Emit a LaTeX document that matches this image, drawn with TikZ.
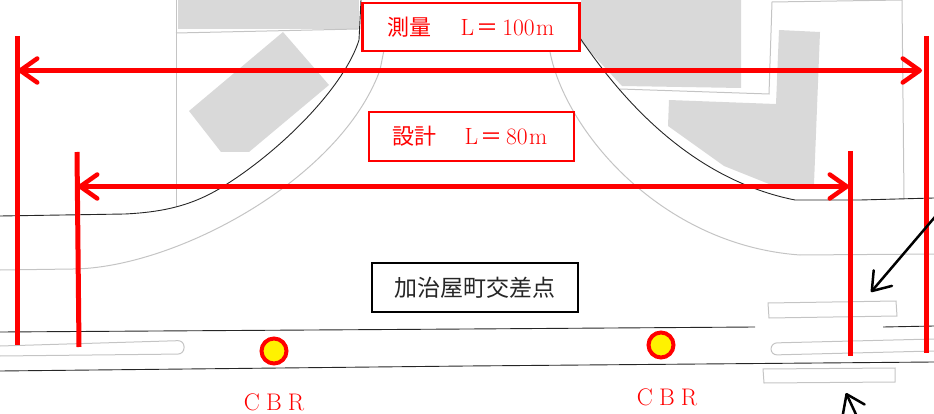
\documentclass[tikz,border=0pt]{standalone}
\usepackage{fontspec}
\newfontfamily\cjk{Noto Sans CJK JP}
\usetikzlibrary{arrows.meta}
\definecolor{bld}{RGB}{217,217,217}
\definecolor{plan}{RGB}{196,196,196}
\definecolor{redd}{RGB}{255,0,0}
\tikzset{
  x=1pt,y=-1pt,
  building/.style={fill=bld,draw=none},
  planline/.style={draw=plan,line width=1pt},
  roadline/.style={draw=black!85,line width=0.9pt},
  redpost/.style={draw=redd,line width=5pt},
  dim/.style={draw=redd,line width=4.5pt,{Straight Barb[length=17pt,width=24pt,line width=4.5pt,round]}-{Straight Barb[length=17pt,width=24pt,line width=4.5pt,round]}},
  blackarrow/.style={draw=black,line width=2.5pt,-{Straight Barb[length=17pt,width=24pt,line width=2.5pt,round]}},
  redbox/.style={draw=redd,line width=2.2pt,fill=white,text=redd,inner sep=0pt,font=\fontsize{23.5}{24}\selectfont,align=center},
  blackbox/.style={draw=black,line width=2.2pt,fill=white,text=black!85,inner sep=0pt,font=\fontsize{23}{24}\selectfont,align=center},
  cbrdot/.style={circle,draw=redd,fill=yellow,line width=4pt,minimum size=25pt,inner sep=0pt},
  cbrtext/.style={text=redd,font=\fontsize{24}{24}\selectfont,inner sep=0pt},
}
\newcommand{\cjktxt}[1]{{\fontsize{22}{24}\selectfont\cjk #1}}
\begin{document}
\begin{tikzpicture}
\useasboundingbox (0,0) rectangle (934,414);
\clip (0,0) rectangle (934,414);
% buildings
\fill[building] (178,0) -- (359,0) -- (359,29) -- (178,29) -- cycle;
\fill[building] (283,32) -- (329,85) -- (249,152) -- (221,152) -- (189,111) -- cycle;
\fill[building] (581,0) -- (741,0) -- (741,88) -- (622,86) -- (581,42) -- cycle;
\fill[building] (779,30) -- (820,32) -- (814,184) -- (769,184) -- (724,166) -- (668,126) -- (669,100) -- (776,104) -- cycle;
% plan outlines
\draw[planline] (176,0) -- (176,207);
\draw[planline] (176,33) -- (358,29);
\draw[planline] (620,89) -- (769,94) -- (772,2) -- (902,0) -- (904,199);
\draw[planline] (0,270) -- (73,269) .. controls (175,268) and (340,180) .. (380,70) -- (385,45);
\draw[planline] (550,52) .. controls (565,130) and (660,245) .. (800,255) -- (934,254);
\draw[planline,rounded corners=6pt] (0,346) -- (184,340.5) -- (184,354) -- (0,356);
\draw[planline,rounded corners=6pt] (934,339) -- (771,343) -- (771,355) -- (934,351);
\draw[planline] (768,303) -- (896,301) -- (897,316) -- (769,318) -- cycle;
\draw[planline] (763,369) -- (895,368) -- (895,382) -- (764,383) -- cycle;
% road edges
\draw[roadline] (0,216) -- (125,214) .. controls (165,212) and (195,205) .. (227,184) .. controls (285,147) and (345,85) .. (359,40) -- (361,0);
\draw[roadline] (578,35) .. controls (625,105) and (695,180) .. (795,200) -- (860,200) -- (934,198);
\draw[roadline] (0,332) -- (467,329) -- (755,327);
\draw[roadline] (883,327) -- (934,326);
\draw[roadline] (0,371) -- (467,366) -- (934,362);
% posts
\coordinate (a1) at (17.5,36);  \coordinate (a2) at (17.5,345);
\coordinate (b1) at (77,152);   \coordinate (b2) at (79,347);
\coordinate (c1) at (850,151);  \coordinate (c2) at (850,356);
\coordinate (d1) at (926,36);   \coordinate (d2) at (926,353);
\draw[redpost] (a1) -- (a2);
\draw[redpost] (b1) -- (b2);
\draw[redpost] (c1) -- (c2);
\draw[redpost] (d1) -- (d2);
% dimension arrows
\coordinate (la) at (18,70.5);  \coordinate (ra) at (922,70.5);
\coordinate (lb) at (78,186.5); \coordinate (rb) at (849,186.5);
\draw[dim] (la) -- (ra);
\draw[dim] (lb) -- (rb);
% black arrows
\coordinate (n1) at (940,211); \coordinate (n2) at (871,292);
\coordinate (s1) at (860,423); \coordinate (s2) at (846,393);
\draw[blackarrow] (n1) -- (n2);
\draw[blackarrow] (s1) -- (s2);
% labels
\node[redbox,minimum width=217pt,minimum height=48pt] (survey) at (471,27) {\cjktxt{測量}\hspace{29pt}L\hspace{2pt}\cjktxt{＝}\hspace{4pt}100\hspace{1.5pt}m};
\node[redbox,minimum width=205pt,minimum height=49pt] (design) at (471.5,136.5) {\hspace{-3pt}\cjktxt{設計}\hspace{28pt}L\hspace{2pt}\cjktxt{＝}\hspace{4pt}80\hspace{1.5pt}m};
\node[blackbox,minimum width=206pt,minimum height=49pt] (cross) at (475,287.5) {\cjk 加治屋町交差点};
\node[cbrdot] (dot1) at (274,351) {};
\node[cbrdot] (dot2) at (661,345) {};
\node[cbrtext] (cbr1) at (274,402) {\makebox[22pt]{C}\makebox[22pt]{B}\makebox[22pt]{R}};
\node[cbrtext] (cbr2) at (667,397) {\makebox[22pt]{C}\makebox[22pt]{B}\makebox[22pt]{R}};
\end{tikzpicture}
\end{document}
